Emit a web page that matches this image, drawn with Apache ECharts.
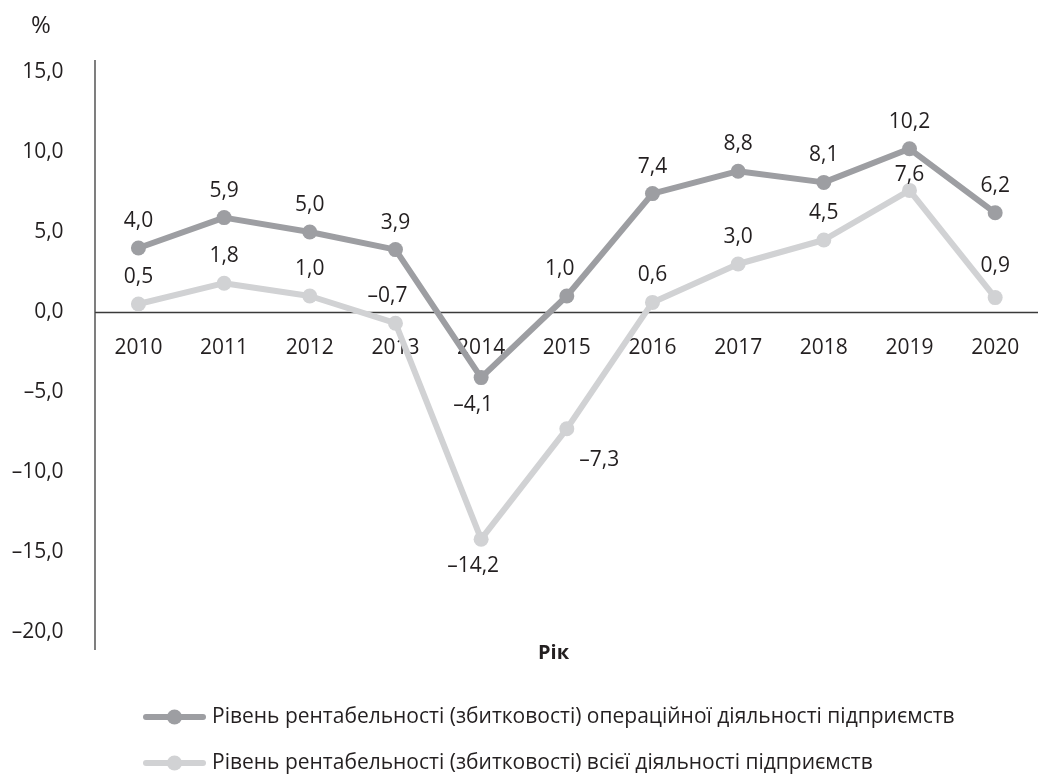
<!DOCTYPE html>
<html>
<head>
<meta charset="utf-8">
<script src="https://cdn.jsdelivr.net/npm/echarts@6/dist/echarts.min.js"></script>
<style>
html,body{margin:0;padding:0;background:#fff;}
#chart{width:1038px;height:778px;}
</style>
</head>
<body>
<div id="chart"></div>
<script>
const years = ['2010','2011','2012','2013','2014','2015','2016','2017','2018','2019','2020'];
const operating = [4.0, 5.9, 5.0, 3.9, -4.1, 1.0, 7.4, 8.8, 8.1, 10.2, 6.2];
const total = [0.5, 1.8, 1.0, -0.7, -14.2, -7.3, 0.6, 3.0, 4.5, 7.6, 0.9];
const seriesNames = [
  'Рівень рентабельності (збитковості) операційної діяльності підприємств',
  'Рівень рентабельності (збитковості) всієї діяльності підприємств'
];
const yUnit = '%';
const xTitle = 'Рік';

const FONT = '"Open Sans", sans-serif';
const TXT = '#231f20';
const DARK = '#9d9ea2';
const LIGHT = '#d1d2d4';

function fmt(v){
  return v.toFixed(1).replace('.', ',').replace('-', '\u2013');
}

// per-label layout tweaks (position only)
const opLabelCfg = {
  4: {position:'bottom', offset:[-8,0]},
  5: {offset:[-7,0]}
};
const totLabelCfg = {
  3: {offset:[-8,0]},
  4: {position:'bottom', offset:[-8,0]},
  5: {position:'right', offset:[-4,31]},
  9: {offset:[0,12]},
  10: {offset:[0,-5]}
};

function buildData(vals, cfg){
  return vals.map((v,i)=>{
    const o = {value:v};
    if (cfg[i]) o.label = Object.assign({}, cfg[i]);
    return o;
  });
}

const GRID_TOP = 72, GRID_BOTTOM = 146, H = 778;
const YMIN = -20, YMAX = 15;
const plotH = H - GRID_TOP - GRID_BOTTOM;
const zeroFromBottom = plotH * (0 - YMIN) / (YMAX - YMIN);

const chart = echarts.init(document.getElementById('chart'));
chart.setOption({
  animation:false,
  backgroundColor:'#fff',
  grid:{left:95.6, right:-11.3, top:GRID_TOP, bottom:GRID_BOTTOM, containLabel:false},
  xAxis:{
    type:'category',
    data:years,
    boundaryGap:true,
    offset:-zeroFromBottom,
    axisLine:{onZero:false, lineStyle:{color:'#3a3a3a', width:1.3}},
    axisTick:{show:false},
    axisLabel:{color:TXT, fontFamily:FONT, fontSize:21, margin:26}
  },
  yAxis:{
    type:'value',
    min:YMIN, max:YMAX, interval:5,
    axisLine:{show:false},
    axisTick:{show:false},
    splitLine:{show:false},
    axisLabel:{color:TXT, fontFamily:FONT, fontSize:21, margin:32, formatter:fmt}
  },
  legend:{
    orient:'vertical',
    left:143, top:705, padding:0,
    itemWidth:57, itemHeight:19, itemGap:22,
    lineStyle:{width:6, cap:'round'},
    textStyle:{color:TXT, fontFamily:FONT, fontSize:21, lineHeight:24, padding:[0,0,0,4]},
    data:seriesNames
  },
  graphic:[
    {type:'line', shape:{x1:95, y1:60, x2:95, y2:650}, style:{stroke:'#3a3a3a', lineWidth:1.3}, z:5},
    {type:'text', left:31, top:14, style:{text:yUnit, fill:TXT, font:'500 24px "Open Sans", sans-serif'}},
    {type:'text', left:538, top:643, style:{text:xTitle, fill:TXT, font:'bold 20px "Open Sans", sans-serif'}}
  ],
  series:[
    {
      name:seriesNames[0], type:'line', data:buildData(operating, opLabelCfg),
      symbol:'circle', symbolSize:15,
      lineStyle:{color:DARK, width:6}, itemStyle:{color:DARK},
      label:{show:true, position:'top', distance:9, color:TXT, fontFamily:FONT, fontSize:21, formatter:p=>fmt(p.value)},
      z:3
    },
    {
      name:seriesNames[1], type:'line', data:buildData(total, totLabelCfg),
      symbol:'circle', symbolSize:15,
      lineStyle:{color:LIGHT, width:6}, itemStyle:{color:LIGHT},
      label:{show:true, position:'top', distance:9, color:TXT, fontFamily:FONT, fontSize:21, formatter:p=>fmt(p.value)},
      z:2
    }
  ]
});
</script>
</body>
</html>
